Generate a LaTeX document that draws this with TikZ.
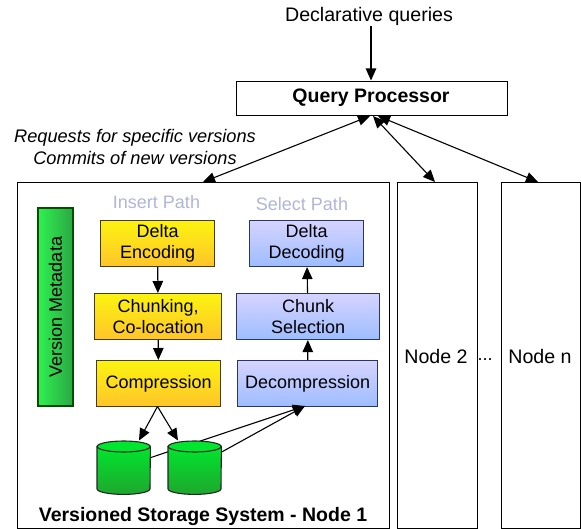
\documentclass[tikz,border=0pt]{standalone}
\usepackage{fontspec}
\setmainfont{Liberation Sans}
\usetikzlibrary{arrows.meta,calc}
\definecolor{yb}{HTML}{4A3A10}
\definecolor{bb}{HTML}{2A3560}
\definecolor{pathc}{HTML}{B0B6D8}
\definecolor{ytop}{HTML}{FBF40F}
\definecolor{ybot}{HTML}{FFC42A}
\definecolor{btop}{HTML}{D6D3FF}
\definecolor{bbot}{HTML}{9DBDFF}
\definecolor{gtop}{HTML}{00E62E}
\definecolor{gbot}{HTML}{1FA62E}
\definecolor{vl}{HTML}{2FF04F}
\definecolor{vr}{HTML}{2BA844}
\tikzset{
  x=1pt,y=-1pt,
  tipa/.tip={Triangle[length=12pt,width=10.5pt]},
  txt/.style={font=\fontsize{18}{21}\selectfont,align=center,inner sep=0pt,text=black},
  big/.style={font=\fontsize{19.6}{21}\selectfont,align=center,inner sep=0pt,text=black},
  bigb/.style={font=\fontsize{19.5}{21}\selectfont\bfseries,align=center,inner sep=0pt,text=black},
  box/.style={txt,draw=black,line width=1.1pt,minimum width=#1,minimum height=46,anchor=north west},
  plainbox/.style={draw=black,line width=1.1pt,anchor=north west,inner sep=0pt,fill=white},
  ybox/.style={box=#1,draw=yb,top color=ytop,bottom color=ybot},
  bbox/.style={box=#1,draw=bb,top color=btop,bottom color=bbot},
  conn/.style={line width=1.1pt,-tipa},
  dconn/.style={line width=1.1pt,tipa-tipa},
  cylbody/.style={draw=black!85,line width=1.1pt,top color=gtop,bottom color=gbot},
  cyltop/.style={draw=black!85,line width=1.1pt,fill=gtop},
  cylanchor/.style={minimum width=53,minimum height=53,inner sep=0pt,anchor=north west},
  pathlabel/.style={txt,text=pathc}
}
\begin{document}
\begin{tikzpicture}
\useasboundingbox (0,0) rectangle (581,529);
% outer boxes
\node[plainbox,minimum width=372,minimum height=346] (sys) at (17,182) {};
\node[plainbox,minimum width=80,minimum height=346] (n2) at (397,182) {};
\node[plainbox,minimum width=79,minimum height=346] (nn) at (501,182) {};
\node[plainbox,minimum width=271,minimum height=34] (qp) at (236,81) {};
\node[bigb] (qpt) at (371,98) {Query Processor};
\node[big] (dq) at (369,16.5) {Declarative queries};
\node[txt,font=\fontsize{18.2}{22}\selectfont\itshape] (req) at (135,147) {Requests for specific versions\\Commits of new versions};
\node[big] (n2t) at (436,356) {Node 2};
\node[txt] (dots) at (485,359.5) {...};
\node[big] (nnt) at (540,356) {Node n};
\node[bigb] (syst) at (203,516) {Versioned Storage System - Node 1};
\node[pathlabel] (ip) at (156.5,202) {Insert Path};
\node[pathlabel] (sp) at (302,204) {Select Path};
% version metadata
\node[txt,rotate=90,draw=black!70!green,line width=1.1pt,minimum width=198,minimum height=35,left color=vl,right color=vr] (vm) at (55.5,307) {Version Metadata};
% path boxes
\node[ybox=114] (de) at (100,220) {Delta\\Encoding};
\node[ybox=127] (ch) at (94,293) {Chunking,\\Co-location};
\node[ybox=124] (co) at (96,360) {Compression};
\node[bbox=114] (dd) at (249,220) {Delta\\Decoding};
\node[bbox=143] (cs) at (236,293) {Chunk\\Selection};
\node[bbox=140] (dc) at (237,360) {Decompression};
% cylinder anchors
\node[cylanchor] (db1) at (97,441) {};
\node[cylanchor] (db2) at (168,441) {};
% connectors
\coordinate (dqs) at (371,26);
\coordinate (qpin) at (371,80.5);
\coordinate (qpa) at (370,116);
\coordinate (qpb) at (373,116);
\coordinate (qpc) at (378,116);
\coordinate (sysin) at (203,182);
\coordinate (n2in) at (435,182);
\coordinate (nnin) at (538,182);
\coordinate (tip) at (305,406);
\coordinate (cotip) at (157.5,406.5);
\coordinate (d1in) at (139,440.5);
\coordinate (d2in) at (178,440.5);
\coordinate (d1out) at (151,457.5);
\coordinate (d2out) at (221.7,452);
\draw[conn] (dqs) -- (qpin);
\draw[dconn] (qpa) -- (sysin);
\draw[dconn] (qpb) -- (n2in);
\draw[dconn] (qpc) -- (nnin);
\draw[conn] (de) -- (ch);
\draw[conn] (ch) -- (co);
\draw[conn] (cs) -- (dd);
\draw[conn] (dc) -- (cs);
\draw[conn] (cotip) -- (d1in);
\draw[conn] (cotip) -- (d2in);
\draw[conn] (d1out) -- (tip);
\draw[conn] (d2out) -- (tip);
% cylinders
\foreach \d in {db1,db2}{
  \draw[cylbody] ($(\d.north west)+(0,5.5)$) -- ($(\d.south west)+(0,-5.5)$)
     arc[start angle=180,end angle=0,x radius=26.5,y radius=5.5]
     -- ($(\d.north east)+(0,5.5)$) -- cycle;
  \draw[cyltop] ($(\d.north)+(0,5.5)$) ellipse[x radius=26.5,y radius=5.5];
}
\end{tikzpicture}
\end{document}
